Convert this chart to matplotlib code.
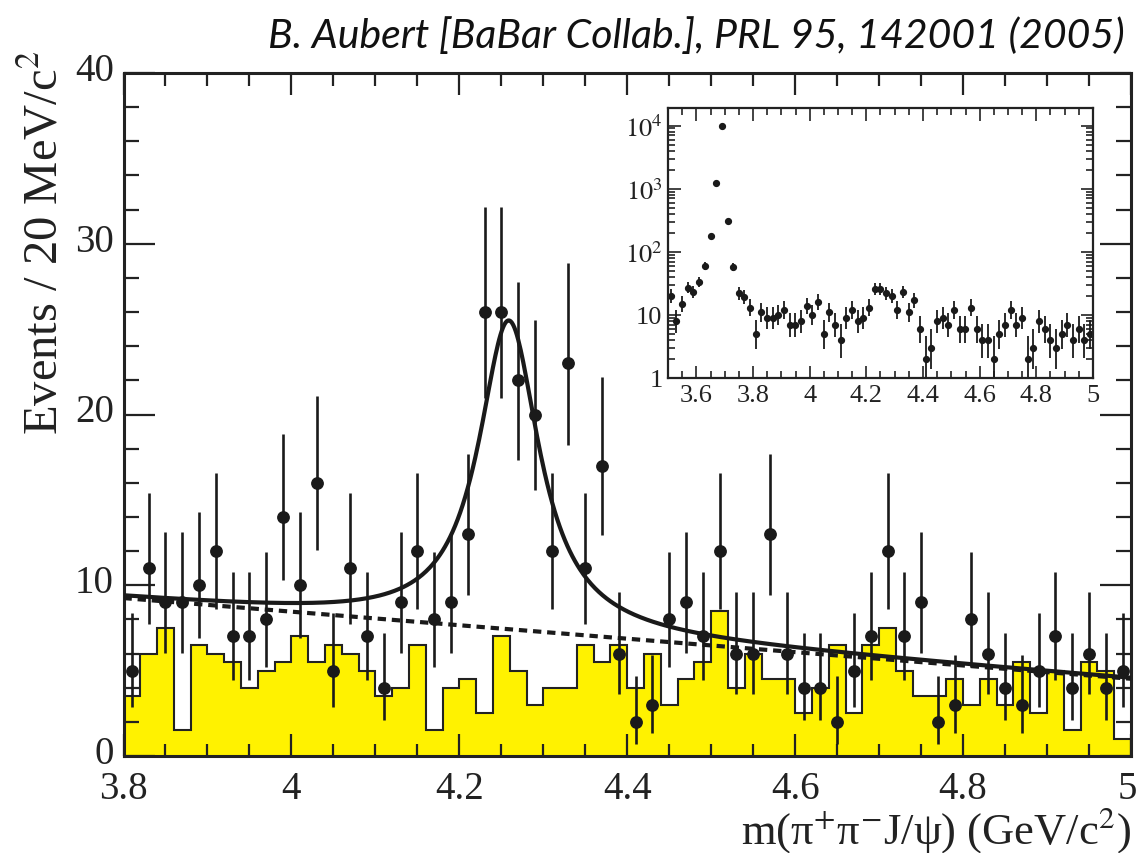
import numpy as np
import matplotlib
matplotlib.use('Agg')
import matplotlib.pyplot as plt
import matplotlib.transforms as mtransforms
from matplotlib.ticker import MultipleLocator, FixedLocator, FixedFormatter, FuncFormatter, NullFormatter

plt.rcParams['font.family'] = ['Liberation Serif', 'DejaVu Serif']
plt.rcParams['mathtext.fontset'] = 'stix'

# 20 MeV bins from 3.80 to 5.00 GeV
edges = np.round(np.linspace(3.80, 5.00, 61), 2)
centers = edges[:-1] + 0.01

# signal region events per bin
counts = [5, 11, 9, 9, 10, 12, 7, 7, 8, 14,
          10, 16, 5, 11, 7, 4, 9, 12, 8, 9,
          13, 26, 26, 22, 20, 12, 23, 11, 17, 6,
          2, 3, 8, 9, 7, 12, 6, 6, 13, 6,
          4, 4, 2, 5, 7, 12, 7, 9, 2, 3,
          8, 6, 4, 3, 5, 7, 4, 6, 4, 5]

# J/psi sideband estimate (yellow)
sideband = [3.5, 6.0, 7.5, 1.5, 6.5, 6.0, 5.5, 4.0, 5.0, 5.5,
            7.0, 5.5, 6.5, 6.0, 5.0, 3.5, 4.0, 6.5, 1.5, 4.0,
            4.5, 2.5, 7.0, 5.0, 3.0, 4.0, 4.0, 6.5, 5.5, 6.5,
            4.0, 6.0, 3.0, 4.5, 5.5, 8.5, 4.0, 6.0, 4.5, 4.5,
            2.5, 4.0, 6.5, 2.5, 6.5, 7.5, 5.0, 3.5, 3.5, 4.5,
            3.0, 4.5, 3.0, 5.5, 2.5, 5.0, 1.5, 5.5, 5.0, 1.0]

# inset: bins 3.50 - 3.80 (psi(2S) peak), rest same as main plot
low_counts = [20, 8, 15, 27, 23, 33, 60, 180, 1250, 9900, 310, 57, 22, 19, 13]
inset_edges = np.round(np.linspace(3.50, 5.00, 76), 2)

# fit: Breit-Wigner + 2nd order polynomial background (in m - 3.8)
bw_mass, bw_width, n_signal = 4.259, 0.088, 125
bkg_coef = [9.25, -4.0, 0.05]


def poisson_err(n):
    n = np.asarray(n, dtype=float)
    lo = n - n * (1 - 1 / (9 * n) - 1 / (3 * np.sqrt(n))) ** 3
    hi = np.sqrt(n + 0.75) + 1
    return lo, hi


fig = plt.figure(figsize=(11.37, 8.54), dpi=100)
ax = fig.add_axes([123.5 / 1137, 1 - 757 / 854, (1131 - 123.5) / 1137, (757 - 74) / 854])

ax.stairs(sideband, edges, fill=True, color='#fff200', zorder=1)
ax.stairs(sideband, edges, color='#222222', lw=1.5, zorder=2)

lo, hi = poisson_err(counts)
ax.errorbar(centers, counts, yerr=[lo, hi], fmt='o', color='#1a1a1a', ms=8.2,
            elinewidth=1.9, capsize=0, zorder=4)

m = np.linspace(3.8, 5.0, 800)
u = m - 3.8
bkg = bkg_coef[0] + bkg_coef[1] * u + bkg_coef[2] * u ** 2
sig = n_signal * 0.02 * (bw_width / (2 * np.pi)) / ((m - bw_mass) ** 2 + (bw_width / 2) ** 2)
ax.plot(m, bkg + sig, color='#1a1a1a', lw=3, zorder=5)
ax.plot(m, bkg, color='#1a1a1a', lw=3, ls=(0, (2, 1.4)), zorder=5)

ax.set_xlim(3.8, 5.0)
ax.set_ylim(0, 40)
ax.xaxis.set_major_locator(MultipleLocator(0.2))
ax.xaxis.set_minor_locator(MultipleLocator(0.05))
ax.yaxis.set_major_locator(MultipleLocator(10))
ax.yaxis.set_minor_locator(MultipleLocator(2))
ax.xaxis.set_major_formatter(FuncFormatter(lambda v, p: '%g' % round(v, 2)))
ax.tick_params(which='both', direction='in', top=True, right=True, width=1.6, colors='#222222')
ax.tick_params(axis='x', which='major', length=16, labelsize=28, pad=10)
ax.tick_params(axis='x', which='minor', length=9)
ax.tick_params(axis='y', which='major', length=22, labelsize=28, pad=7)
ax.tick_params(axis='y', which='minor', length=11)
for s in ax.spines.values():
    s.set_linewidth(2.2)
    s.set_color('#222222')

fig.text(45 / 1137, 1 - 50 / 854, 'Events / 20 MeV/c$^{2}$', rotation=90,
         ha='center', va='top', fontsize=35, color='#222222')
fig.text(1131 / 1137, 1 - 830 / 854, r'm(π$^{+}$π$^{-}$J/ψ) (GeV/c$^{2}$)',
         ha='right', va='center', fontsize=32, color='#222222')
fig.text(1125 / 1137, 1 - 36 / 854, 'B. Aubert [BaBar Collab.], PRL 95, 142001 (2005)',
         ha='right', va='center', fontsize=29.5, family='Lato', style='italic', color='#111111')

# inset with log scale
axin = fig.add_axes([668 / 1137, 1 - 379 / 854, 425 / 1137, 270 / 854])
all_counts = low_counts + counts
ilo, ihi = poisson_err(all_counts)
axin.errorbar(inset_edges[:-1] + 0.01, all_counts, yerr=[ilo, ihi], fmt='o', color='#1a1a1a',
              ms=4.2, elinewidth=1.3, capsize=0)
axin.set_yscale('log')
axin.set_xlim(3.5, 5.0)
axin.set_ylim(1, 1.9e4)
axin.xaxis.set_major_locator(MultipleLocator(0.2))
axin.xaxis.set_minor_locator(MultipleLocator(0.05))
axin.xaxis.set_major_formatter(FuncFormatter(lambda v, p: '%g' % round(v, 2)))
axin.yaxis.set_major_locator(FixedLocator([1, 10, 100, 1000, 10000]))
axin.yaxis.set_major_formatter(FixedFormatter(['1', '10', '$10^{2}$', '$10^{3}$', '$10^{4}$']))
minors = [k * 10 ** d for d in range(5) for k in range(2, 10)]
axin.yaxis.set_minor_locator(FixedLocator(minors))
axin.yaxis.set_minor_formatter(NullFormatter())
axin.tick_params(which='both', direction='in', top=True, right=True, width=1.2, colors='#222222',
                 labelsize=19)
axin.tick_params(which='major', length=9, pad=4)
axin.tick_params(which='minor', length=5)
for s in axin.spines.values():
    s.set_linewidth(1.6)
    s.set_color('#222222')

# nudge a few tick labels once the ticks exist
fig.canvas.draw()
up = mtransforms.ScaledTranslation(0, 7 / 100, fig.dpi_scale_trans)
for t in ax.yaxis.get_major_ticks():
    t.label1.set_transform(t.label1.get_transform() + up)
last = [t for t in ax.xaxis.get_major_ticks() if abs(t.get_loc() - 5.0) < 1e-6]
for t in last:
    t.label1.set_horizontalalignment('right')
    t.label1.set_transform(t.label1.get_transform() +
                           mtransforms.ScaledTranslation(6 / 100, 0, fig.dpi_scale_trans))

fig.savefig('out.png', dpi=100)
